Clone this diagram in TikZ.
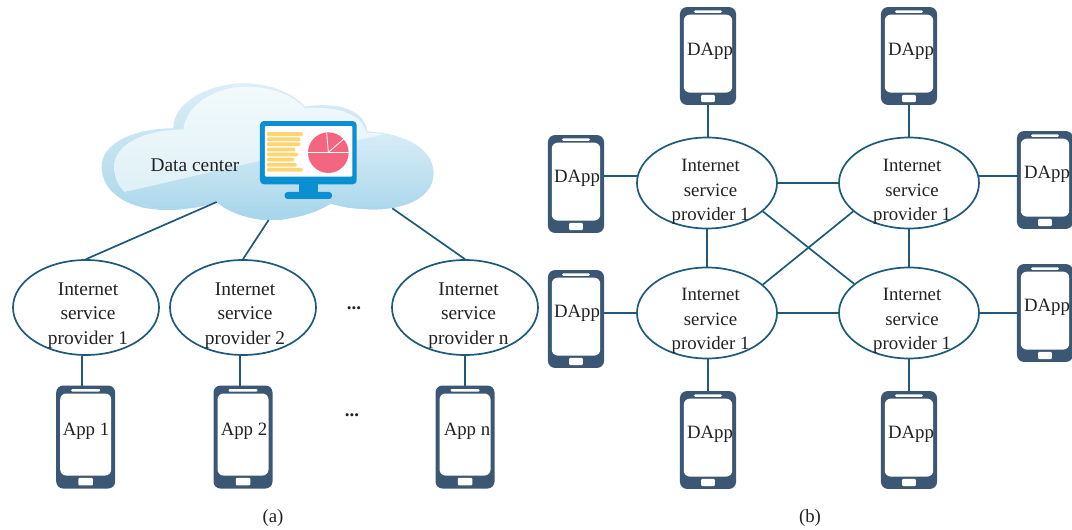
\documentclass[tikz,border=0pt]{standalone}
\usepackage{fontspec}
\setmainfont{Liberation Serif}
\usetikzlibrary{shapes.geometric}
\definecolor{linec}{HTML}{1F5A7C}
\definecolor{phonec}{HTML}{3C5773}
\definecolor{txtc}{HTML}{222222}
\definecolor{monc}{HTML}{0A8FD0}
\definecolor{barc}{HTML}{FFD572}
\definecolor{piec}{HTML}{F4667F}
\definecolor{cla}{HTML}{DCEEF7}
\definecolor{clb}{HTML}{A9D6EA}
\definecolor{clc}{HTML}{F3FAFC}
\definecolor{cld}{HTML}{DAEEF6}
\definecolor{cle}{HTML}{DCEFF7}
\definecolor{clf}{HTML}{A6D5EA}
\tikzset{
  x=1pt,y=-1pt,
  conn/.style={draw=linec,line width=1.7pt},
  ell/.style={ellipse,draw=linec,line width=1.7pt,fill=white,inner sep=0pt},
  ella/.style={ell,minimum width=146pt,minimum height=95pt},
  ellb/.style={ell,minimum width=140pt,minimum height=91pt},
  lab/.style={text=txtc,align=center,inner sep=0pt,font=\fontsize{18.8}{24.5}\selectfont},
  laba/.style={lab,font=\fontsize{19.4}{24.5}\selectfont},
  phonebody/.style={rectangle,fill=phonec,rounded corners=7pt,inner sep=0pt},
  phonescr/.style={rectangle,fill=white,rounded corners=6pt,inner sep=0pt},
  phonebit/.style={rectangle,fill=white,inner sep=0pt,rounded corners=1pt},
  mon/.style={fill=monc},
  bar/.style={fill=barc,rounded corners=1pt},
  pieline/.style={draw=white,line width=.8pt},
}
% name, cx, cy, scale, label, label x, label y
\newcommand\myphone[7]{%
  \node[phonebody,minimum width=#4*59pt,minimum height=#4*103pt] (#1) at (#2,#3) {};
  \node[phonescr,minimum width=#4*51pt,minimum height=#4*82pt] (#1s) at (#2,#3-#4*2.5) {};
  \node[phonebit,minimum width=#4*29pt,minimum height=#4*2.4pt] (#1t) at (#2,#3-#4*46.7) {};
  \node[phonebit,minimum width=#4*14.5pt,minimum height=#4*7.5pt] (#1b) at (#2,#3+#4*44.7) {};
  \node[lab] (#1l) at (#6,#7) {#5};
}
% colour a, colour b, from y, to y: vertical gradient of solid strips
\newcommand\gradstrips[4]{%
  \foreach \yy in {#3,...,#4} {%
    \pgfmathsetmacro\pp{100*(\yy-#3)/(#4-#3)}%
    \fill[#2!\pp!#1] (0,\yy) rectangle (1040,\yy+1.2);
  }%
}
\newcommand\cloudouter{(250,175) .. controls (250,90) and (370,40) .. (460,40) .. controls (540,40) and (610,70) .. (645,110) .. controls (700,100) and (820,100) .. (832,185) .. controls (950,190) and (1030,240) .. (1030,310) .. controls (1030,380) and (950,418) .. (850,418) .. controls (800,418) and (750,410) .. (722,400) .. controls (680,430) and (600,450) .. (540,450) .. controls (480,450) and (410,425) .. (380,395) .. controls (340,410) and (280,420) .. (230,420) .. controls (120,420) and (35,370) .. (35,290) .. controls (35,220) and (130,175) .. (250,175) -- cycle}
\newcommand\cloudinner{(280,178) .. controls (290,100) and (380,50) .. (470,50) .. controls (540,50) and (610,75) .. (645,115) .. controls (700,110) and (810,115) .. (830,187) .. controls (950,192) and (1040,240) .. (1040,310) -- (1040,470) -- (230,470) -- (230,418) .. controls (150,418) and (72,365) .. (72,290) .. controls (72,230) and (150,180) .. (280,178) -- cycle}
\begin{document}
\begin{tikzpicture}
\useasboundingbox (0,0) rectangle (1072,530);
\fill[white] (0,0) rectangle (1072,530);

% cloud
\begin{scope}[xshift=90pt,yshift=-70pt,x=.33333pt,y=-.33333pt]
  \begin{scope}
    \clip \cloudouter;
    \begin{scope}[y=-1.33333pt]
      \gradstrips{cla}{clb}{10}{113}
    \end{scope}
    \begin{scope}
      \clip \cloudinner;
      \begin{scope}[y=-1.33333pt]
        \gradstrips{clc}{cld}{10}{113}
      \end{scope}
      \begin{scope}
        \clip (0,400) -- (110,365) -- (500,275) -- (1040,160) -- (1040,470) -- (0,470) -- cycle;
        \begin{scope}[y=-1.33333pt]
          \gradstrips{cle}{clf}{40}{113}
        \end{scope}
      \end{scope}
    \end{scope}
  \end{scope}
  \coordinate (c1) at (380,396);
  \coordinate (c2) at (536,450);
  \coordinate (c3) at (907,415);
  % monitor
  \fill[mon,rounded corners=4pt] (510,153) rectangle (800,343);
  \fill[white,rounded corners=1pt] (525,168) rectangle (787,320);
  \fill[mon] (626,340) rectangle (685,368);
  \fill[mon,rounded corners=3pt] (584,366) rectangle (726,387);
  \fill[bar] (531,186) rectangle (638,198);
  \fill[bar] (531,202) rectangle (631,213);
  \fill[bar] (531,217) rectangle (631,228);
  \fill[bar] (531,233) rectangle (616,244);
  \fill[bar] (531,248) rectangle (624,259);
  \fill[bar] (531,263) rectangle (612,274);
  \fill[bar] (531,279) rectangle (620,290);
  \fill[bar] (531,294) rectangle (638,305);
  \fill[piec] (715,248) circle[radius=61];
  \draw[pieline] (654,247) -- (776,247);
  \draw[pieline] (715,247) -- (710,187);
  \draw[pieline] (715,247) -- (761,207);
\end{scope}
\node[text=txtc,inner sep=0pt,font=\fontsize{19.4}{24}\selectfont] (dc) at (195,165) {Data center};

% (a) ellipses
\node[ella] (e1) at (86,307.5) {};
\node[ella] (e2) at (243,307.5) {};
\node[ella] (e3) at (465,307.5) {};
\node[laba] (e1l) at (88,315.5) {Internet\\service\\provider 1};
\node[laba] (e2l) at (245,315.5) {Internet\\service\\provider 2};
\node[laba] (e3l) at (468.5,315.5) {Internet\\service\\provider n};
\draw[conn] (c1) -- (e1.north);
\draw[conn] (c2) -- (e2.north);
\draw[conn] (c3) -- (e3.north);

% (a) phones
\myphone{a1}{85.7}{437}{1}{App 1}{86}{431}
\myphone{a2}{243}{437}{1}{App 2}{244}{431}
\myphone{a3}{465}{437}{1}{App n}{467}{431}
\coordinate (j1) at (82,386);
\coordinate (j2) at (240,386);
\coordinate (j3) at (465,386);
\draw[conn] (j1) -- (j1 |- e1.south);
\draw[conn] (j2) -- (j2 |- e2.south);
\draw[conn] (j3) -- (j3 |- e3.south);
\node[font=\fontsize{19}{24}\selectfont\bfseries,text=txtc,inner sep=0pt] (d1) at (354,308) {...};
\node[font=\fontsize{19}{24}\selectfont\bfseries,text=txtc,inner sep=0pt] (d2) at (352,415) {...};
\node[lab] (capa) at (273,518) {(a)};

% (b) ellipses
\node[ellb] (f1) at (707,183) {};
\node[ellb] (f2) at (909,183) {};
\node[ellb] (f3) at (707,313) {};
\node[ellb] (f4) at (909,313) {};
\node[lab] (f1l) at (710.5,192) {Internet\\service\\provider 1};
\node[lab] (f2l) at (912,192) {Internet\\service\\provider 1};
\node[lab] (f3l) at (710.5,321) {Internet\\service\\provider 1};
\node[lab] (f4l) at (912,321) {Internet\\service\\provider 1};

% (b) phones
\def\phsc{.95}
\myphone{t1}{708}{56}{\phsc}{DApp}{710}{51}
\myphone{t2}{909}{56}{\phsc}{DApp}{911}{51}
\myphone{l1}{576}{184}{\phsc}{DApp}{577}{178}
\myphone{l2}{576}{319}{\phsc}{DApp}{577}{313}
\myphone{r1}{1045}{180}{\phsc}{DApp}{1047}{174}
\myphone{r2}{1045}{313}{\phsc}{DApp}{1047}{307}
\myphone{b1}{708}{440}{\phsc}{DApp}{710}{434}
\myphone{b2}{909}{440}{\phsc}{DApp}{911}{434}

% (b) connectors
\draw[conn] (t1.south) -- (t1.south |- f1.north);
\draw[conn] (t2.south) -- (t2.south |- f2.north);
\draw[conn] (b1.north) -- (b1.north |- f3.south);
\draw[conn] (b2.north) -- (b2.north |- f4.south);
\draw[conn] (f1.174) -- (f1.174 -| l1.east);
\draw[conn] (f3.west) -- (f3.west -| l2.east);
\draw[conn] (f2.6) -- (f2.6 -| r1.west);
\draw[conn] (f4.east) -- (f4.east -| r2.west);
\draw[conn] (f1.east) -- (f2.west);
\draw[conn] (f3.east) -- (f4.west);
\draw[conn] (f1.south) -- (f3.north);
\draw[conn] (f2.south) -- (f4.north);
\draw[conn] (f1.333) -- (f4.152);
\draw[conn] (f2.207) -- (f3.27);
\node[lab] (capb) at (810,518) {(b)};
\end{tikzpicture}
\end{document}
